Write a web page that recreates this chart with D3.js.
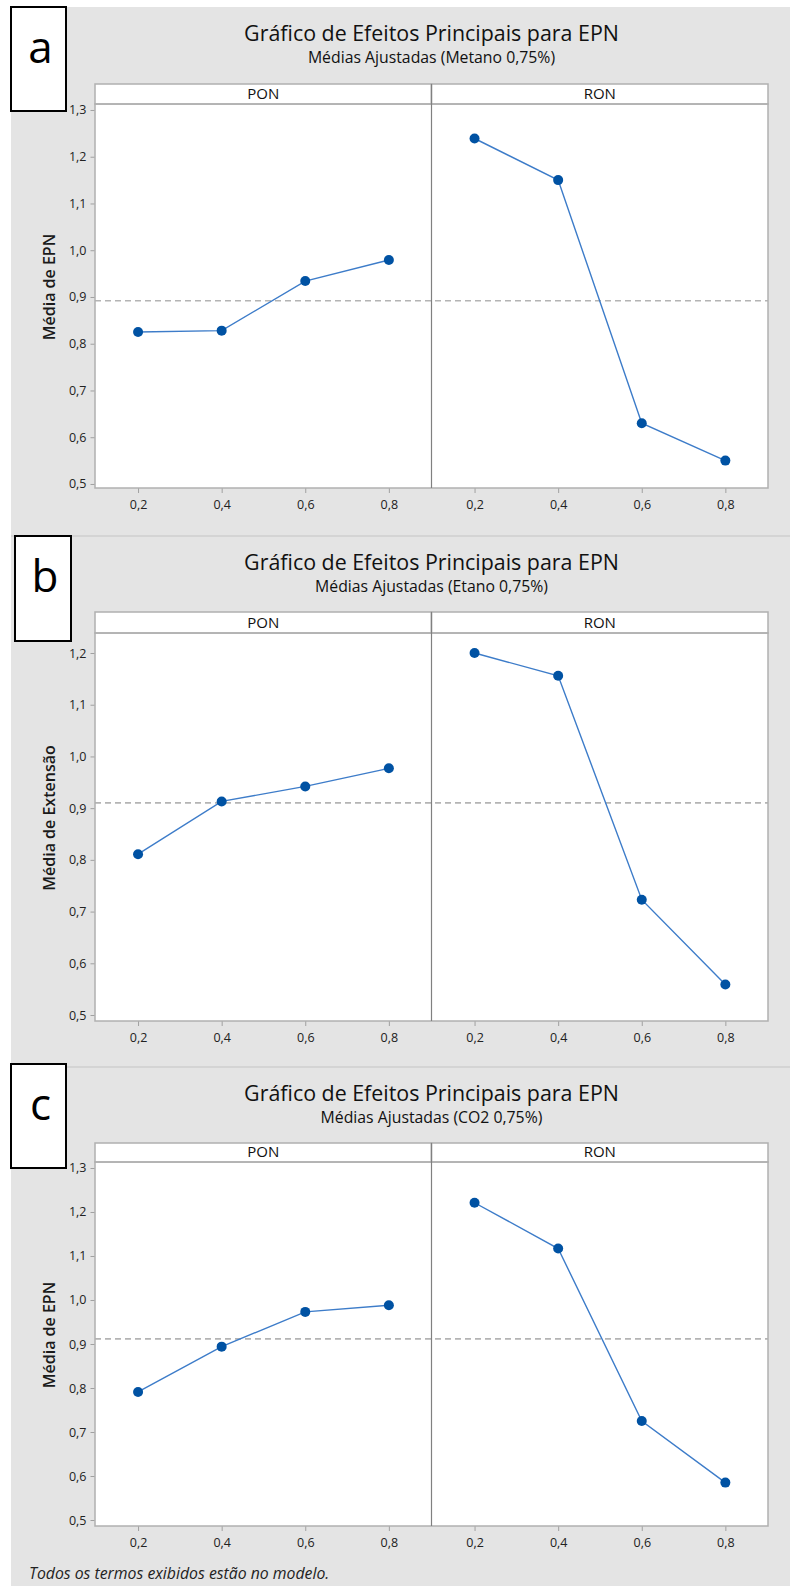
<!DOCTYPE html>
<html>
<head>
<meta charset="utf-8">
<script src="https://cdn.jsdelivr.net/npm/d3@7"></script>
<style>
  body { margin: 0; background: #fff; }
  svg { display: block; }
  text { font-family: "Open Sans", "Noto Sans", sans-serif; }
</style>
</head>
<body>
<script>
// levels of the two factors (x axis)
var levels = [0.2, 0.4, 0.6, 0.8];
var factors = ["PON", "RON"];

// adjusted means
var metanoPON = [0.825, 0.828, 0.934, 0.979];
var metanoRON = [1.239, 1.150, 0.630, 0.550];
var etanoPON = [0.811, 0.913, 0.942, 0.977];
var etanoRON = [1.200, 1.156, 0.723, 0.559];
var co2PON = [0.791, 0.894, 0.973, 0.988];
var co2RON = [1.221, 1.117, 0.725, 0.585];

// texts and ticks
var letters = ["a", "b", "c"];
var title = "Gráfico de Efeitos Principais para EPN";
var subtitles = ["Médias Ajustadas (Metano 0,75%)", "Médias Ajustadas (Etano 0,75%)", "Médias Ajustadas (CO2 0,75%)"];
var yLabels = ["Média de EPN", "Média de Extensão", "Média de EPN"];
var yTicksA = [0.5, 0.6, 0.7, 0.8, 0.9, 1.0, 1.1, 1.2, 1.3];
var yTicksB = [0.5, 0.6, 0.7, 0.8, 0.9, 1.0, 1.1, 1.2];
var yTicksC = [0.5, 0.6, 0.7, 0.8, 0.9, 1.0, 1.1, 1.2, 1.3];
var footer = "Todos os termos exibidos estão no modelo.";

var series = [[metanoPON, metanoRON], [etanoPON, etanoRON], [co2PON, co2RON]];
var yTicks = [yTicksA, yTicksB, yTicksC];

// layout of each panel (pixels)
var layout = [
  {top: 7,    bottom: 536,  box: [11, 7, 55, 104],    stripTop: 84,   plotTop: 104,  plotBottom: 488,  yDomain: [0.4914, 1.3128]},
  {top: 536,  bottom: 1067, box: [15, 536, 56, 105],  stripTop: 612,  plotTop: 633,  plotBottom: 1021, yDomain: [0.4884, 1.2387]},
  {top: 1067, bottom: 1586, box: [11, 1064, 55, 104], stripTop: 1143, plotTop: 1162, plotBottom: 1526, yDomain: [0.4864, 1.3136]}
];

var W = 790, H = 1586;
var plotLeft = 95, plotRight = 768;
var facetW = (plotRight - plotLeft) / 2;
var grey = "#e4e4e4";
var fmt = function(v) { return d3.format(".1f")(v).replace(".", ","); };

var svg = d3.select("body").append("svg")
  .attr("width", W)
  .attr("height", H);

layout.forEach(function(p, k) {
  var g = svg.append("g");

  // panel background
  g.append("rect")
    .attr("x", 11).attr("y", p.top)
    .attr("width", W - 11).attr("height", p.bottom - p.top)
    .attr("fill", grey);
  if (k > 0) {
    g.append("line")
      .attr("x1", 11).attr("x2", W)
      .attr("y1", p.top).attr("y2", p.top)
      .attr("stroke", "#d4d4d4").attr("stroke-width", 2);
  }

  // titles
  g.append("text")
    .attr("x", (plotLeft + plotRight) / 2).attr("y", p.top + 34)
    .attr("text-anchor", "middle")
    .attr("font-size", 21.4).attr("fill", "#111")
    .text(title);
  g.append("text")
    .attr("x", (plotLeft + plotRight) / 2).attr("y", p.top + 56)
    .attr("text-anchor", "middle")
    .attr("font-size", 15.8).attr("fill", "#111")
    .text(subtitles[k]);

  var y = d3.scaleLinear().domain(p.yDomain).range([p.plotBottom, p.plotTop]);
  var vals = series[k];
  var mean = d3.mean(vals[0].concat(vals[1]));

  // plot area
  g.append("rect")
    .attr("x", plotLeft).attr("y", p.plotTop)
    .attr("width", plotRight - plotLeft).attr("height", p.plotBottom - p.plotTop)
    .attr("fill", "#fff");

  // grand mean reference line
  g.append("line")
    .attr("x1", plotLeft).attr("x2", plotRight)
    .attr("y1", y(mean)).attr("y2", y(mean))
    .attr("stroke", "#b4b4b4").attr("stroke-width", 1.6)
    .attr("stroke-dasharray", "6,4");

  factors.forEach(function(f, i) {
    var x0 = plotLeft + i * facetW;
    var x = d3.scaleLinear().domain([0.097, 0.902]).range([x0, x0 + facetW]);

    // strip
    g.append("rect")
      .attr("x", x0).attr("y", p.stripTop)
      .attr("width", facetW).attr("height", p.plotTop - p.stripTop)
      .attr("fill", "#fff").attr("stroke", "#b0b0b0").attr("stroke-width", 1.5);
    g.append("text")
      .attr("x", x0 + facetW / 2).attr("y", p.plotTop - 5)
      .attr("text-anchor", "middle")
      .attr("font-size", 15).attr("fill", "#111")
      .text(f);

    var pts = levels.map(function(l, j) { return [l, vals[i][j]]; });
    g.append("path")
      .datum(pts)
      .attr("fill", "none")
      .attr("stroke", "#3d7cc9")
      .attr("stroke-width", 1.4)
      .attr("d", d3.line().x(function(d) { return x(d[0]); }).y(function(d) { return y(d[1]); }));
    g.selectAll(null)
      .data(pts)
      .enter()
      .append("circle")
      .attr("cx", function(d) { return x(d[0]); })
      .attr("cy", function(d) { return y(d[1]); })
      .attr("r", 5)
      .attr("fill", "#0052a3");

    // x axis
    var xa = g.append("g")
      .attr("transform", "translate(0," + p.plotBottom + ")")
      .call(d3.axisBottom(x).tickValues(levels).tickFormat(fmt).tickSize(5).tickPadding(7));
    xa.select(".domain").remove();
    xa.selectAll("line").attr("stroke", "#a0a0a0");
    xa.selectAll("text").attr("font-size", 12.5).attr("fill", "#222")
      .attr("font-family", "'Open Sans', sans-serif");
  });

  // plot frame and facet divider
  g.append("rect")
    .attr("x", plotLeft).attr("y", p.plotTop)
    .attr("width", plotRight - plotLeft).attr("height", p.plotBottom - p.plotTop)
    .attr("fill", "none").attr("stroke", "#b0b0b0").attr("stroke-width", 1.5);
  g.append("line")
    .attr("x1", plotLeft + facetW).attr("x2", plotLeft + facetW)
    .attr("y1", p.stripTop).attr("y2", p.plotBottom)
    .attr("stroke", "#808080").attr("stroke-width", 1.2);

  // y axis
  var ya = g.append("g")
    .attr("transform", "translate(" + (plotLeft - 0.5) + ",0)")
    .call(d3.axisLeft(y).tickValues(yTicks[k]).tickFormat(fmt).tickSize(4).tickPadding(4));
  ya.select(".domain").remove();
  ya.selectAll("line").attr("stroke", "#a0a0a0");
  ya.selectAll("text").attr("font-size", 12.5).attr("fill", "#222")
    .attr("font-family", "'Open Sans', sans-serif");

  g.append("text")
    .attr("transform", "translate(55," + ((p.plotTop + p.plotBottom) / 2 - 9) + ") rotate(-90)")
    .attr("text-anchor", "middle")
    .attr("font-size", 16).attr("font-weight", 600).attr("fill", "#1a1a1a")
    .text(yLabels[k]);

  // letter box
  g.append("rect")
    .attr("x", p.box[0]).attr("y", p.box[1])
    .attr("width", p.box[2]).attr("height", p.box[3])
    .attr("fill", "#fff").attr("stroke", "#000").attr("stroke-width", 2);
  g.append("text")
    .attr("x", p.box[0] + p.box[2] / 2 + 2).attr("y", p.box[1] + 56)
    .attr("text-anchor", "middle")
    .attr("font-size", 44).attr("fill", "#000")
    .text(letters[k]);
});

svg.append("text")
  .attr("x", 29).attr("y", 1579)
  .attr("font-size", 15.8).attr("font-style", "italic").attr("fill", "#222")
  .text(footer);
</script>
</body>
</html>
